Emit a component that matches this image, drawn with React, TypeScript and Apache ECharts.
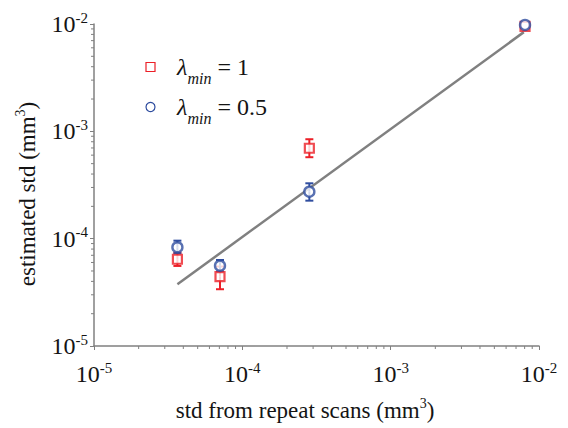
import React, { useEffect, useRef } from "react";
import * as echarts from "echarts";

// Per-scan positions (mm^3) and estimated std for each threshold setting
const xValues = [3.65e-5, 7.07e-5, 2.83e-4, 8.05e-3];

const redY = [6.43e-5, 4.42e-5, 6.96e-4, 9.5e-3];
const redLo = [5.57e-5, 3.38e-5, 5.74e-4, 9.0e-3];
const redHi = [7.4e-5, 5.5e-5, 8.44e-4, 1.0e-2];

const blueY = [8.32e-5, 5.6e-5, 2.74e-4, 9.81e-3];
const blueLo = [7.3e-5, 4.95e-5, 2.26e-4, 9.5e-3];
const blueHi = [9.58e-5, 6.33e-5, 3.28e-4, 1.01e-2];

// Reference line endpoints
const fitX = [3.65e-5, 7.9e-3];
const fitY = [3.76e-5, 8.4e-3];

// Minor tick positions for the log axes (2..9 within each decade)
const minorTicks = [
  2e-5, 3e-5, 4e-5, 5e-5, 6e-5, 7e-5, 8e-5, 9e-5,
  2e-4, 3e-4, 4e-4, 5e-4, 6e-4, 7e-4, 8e-4, 9e-4,
  2e-3, 3e-3, 4e-3, 5e-3, 6e-3, 7e-3, 8e-3, 9e-3,
];

const AXIS_MIN = 1e-5;
const AXIS_MAX = 1e-2;

const RED = "#ec1f27";
const BLUE = "#2f4d9f";
const GRAY = "#808080";
const TEXT = "#141414";
const FONT = "'Liberation Serif', 'Times New Roman', serif";

const powerRich = {
  b: { fontSize: 24, fontFamily: FONT, color: TEXT, lineHeight: 28 },
  s: { fontSize: 15, fontFamily: FONT, color: TEXT, lineHeight: 15, verticalAlign: "top" as const },
};

const powerLabel = (v: number) => {
  const e = Math.round(Math.log10(v));
  return `{b|10}{s|${e}}`;
};

function errorBarSeries(name: string, ys: number[], lo: number[], hi: number[], color: string) {
  return {
    name,
    type: "custom",
    z: 3,
    data: xValues.map((x, i) => [x, ys[i], lo[i], hi[i]]),
    renderItem: (_p: any, api: any) => {
      const x = api.value(0);
      const c = api.coord([x, api.value(1)]);
      const top = api.coord([x, api.value(3)]);
      const bot = api.coord([x, api.value(2)]);
      const r = 4.5;
      const cap = 4;
      const style = { stroke: color, lineWidth: 2 };
      const children: any[] = [];
      if (top[1] < c[1] - r) {
        children.push({ type: "line", shape: { x1: c[0], y1: top[1], x2: c[0], y2: c[1] }, style });
        children.push({ type: "line", shape: { x1: c[0] - cap, y1: top[1], x2: c[0] + cap, y2: top[1] }, style });
      }
      if (bot[1] > c[1] + r) {
        children.push({ type: "line", shape: { x1: c[0], y1: c[1], x2: c[0], y2: bot[1] }, style });
        children.push({ type: "line", shape: { x1: c[0] - cap, y1: bot[1], x2: c[0] + cap, y2: bot[1] }, style });
      }
      return { type: "group", children };
    },
  };
}

const titleRich = {
  sup: { fontSize: 14, fontFamily: FONT, fill: TEXT, lineHeight: 14, verticalAlign: "top" },
};

const legendRich = {
  l: { fontSize: 24, fontStyle: "italic", fontFamily: FONT, fill: TEXT, lineHeight: 38 },
  m: { fontSize: 16, fontStyle: "italic", fontFamily: FONT, fill: TEXT, lineHeight: 16, verticalAlign: "bottom" },
  e: { fontSize: 24, fontFamily: FONT, fill: TEXT, lineHeight: 38 },
};

export default function App() {
  const ref = useRef<HTMLDivElement>(null);

  useEffect(() => {
    if (!ref.current) return;
    const chart = echarts.init(ref.current, null, { renderer: "svg" });

    const axisCommon = {
      type: "log" as const,
      logBase: 10,
      min: AXIS_MIN,
      max: AXIS_MAX,
      axisLine: { show: true, lineStyle: { color: GRAY, width: 1.5 } },
      axisTick: { show: true, inside: false, length: 4, lineStyle: { color: GRAY, width: 1 } },
      splitLine: { show: false },
      axisLabel: { formatter: powerLabel, rich: powerRich },
    };

    chart.setOption({
      animation: false,
      backgroundColor: "#ffffff",
      grid: { left: 94, right: 29, top: 24, bottom: 82, containLabel: false },
      xAxis: {
        ...axisCommon,
        axisLabel: { ...axisCommon.axisLabel, margin: 14 },
      },
      yAxis: {
        ...axisCommon,
        axisLabel: { ...axisCommon.axisLabel, margin: 6 },
      },
      series: [
        {
          type: "line",
          data: fitX.map((x, i) => [x, fitY[i]]),
          symbol: "none",
          lineStyle: { color: GRAY, width: 2.5 },
          z: 1,
        },
        {
          type: "custom",
          z: 1,
          data: minorTicks.map((v) => [v, v]),
          renderItem: (_p: any, api: any) => {
            const v = api.value(0);
            const px = api.coord([v, AXIS_MIN]);
            const py = api.coord([AXIS_MIN, v]);
            const style = { stroke: GRAY, lineWidth: 1 };
            return {
              type: "group",
              children: [
                { type: "line", shape: { x1: px[0], y1: px[1], x2: px[0], y2: px[1] + 3 }, style },
                { type: "line", shape: { x1: py[0], y1: py[1], x2: py[0] - 3, y2: py[1] }, style },
              ],
            };
          },
        },
        errorBarSeries("err1", redY, redLo, redHi, RED),
        {
          type: "scatter",
          z: 4,
          data: xValues.map((x, i) => [x, redY[i]]),
          symbol: "rect",
          symbolSize: 9,
          itemStyle: { color: "#ffffff", borderColor: RED, borderWidth: 2.2 },
        },
        errorBarSeries("err05", blueY, blueLo, blueHi, BLUE),
        {
          type: "scatter",
          z: 4,
          data: xValues.map((x, i) => [x, blueY[i]]),
          symbol: "circle",
          symbolSize: 10,
          itemStyle: { color: "#ffffff", borderColor: BLUE, borderWidth: 2.4 },
        },
      ],
      graphic: [
        // Axis titles
        {
          type: "text",
          x: 305,
          y: 410,
          style: {
            text: "std from repeat scans (mm{sup|3})",
            fontSize: 23,
            fontFamily: FONT,
            fill: TEXT,
            lineHeight: 28,
            align: "center",
            verticalAlign: "middle",
            rich: titleRich,
          },
        },
        {
          type: "text",
          x: 27,
          y: 194,
          rotation: Math.PI / 2,
          style: {
            text: "estimated std (mm{sup|3})",
            fontSize: 23,
            fontFamily: FONT,
            fill: TEXT,
            lineHeight: 28,
            align: "center",
            verticalAlign: "middle",
            rich: titleRich,
          },
        },
        // Legend
        {
          type: "rect",
          shape: { x: 146, y: 62.5, width: 9, height: 9 },
          style: { fill: "#ffffff", stroke: RED, lineWidth: 1.2 },
        },
        {
          type: "circle",
          shape: { cx: 150.5, cy: 107, r: 4.5 },
          style: { fill: "#ffffff", stroke: BLUE, lineWidth: 1.2 },
        },
        {
          type: "text",
          x: 177,
          y: 67,
          style: { text: "{l|λ}{m|min}{e| = 1}", align: "left", verticalAlign: "middle", rich: legendRich },
        },
        {
          type: "text",
          x: 177,
          y: 107,
          style: { text: "{l|λ}{m|min}{e| = 0.5}", align: "left", verticalAlign: "middle", rich: legendRich },
        },
      ],
    });

    return () => chart.dispose();
  }, []);

  return <div ref={ref} style={{ width: 568, height: 428, position: "absolute", left: 0, top: 0 }} />;
}
